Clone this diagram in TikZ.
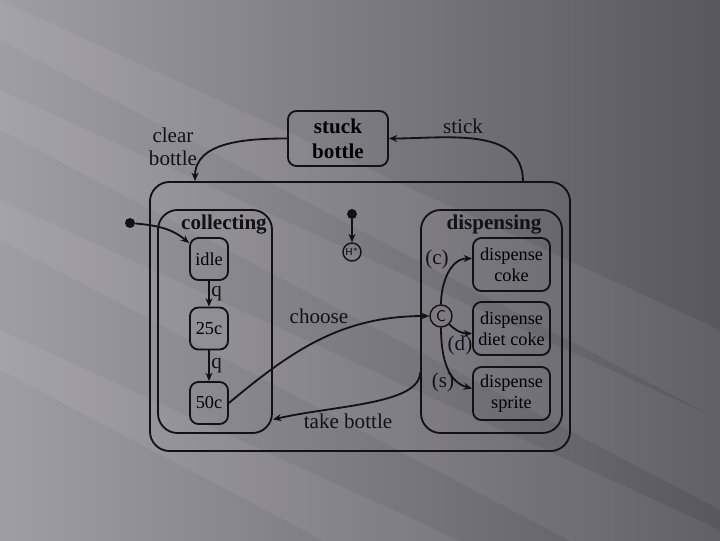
\documentclass[tikz,border=0pt]{standalone}
\usepackage{fontspec}
\setmainfont{Liberation Serif}
\usepackage{xcolor}
\usetikzlibrary{arrows.meta, positioning, calc}
\definecolor{inkcolor}{RGB}{18,18,20}
\definecolor{bgleft}{RGB}{160,158,165}
\definecolor{bgright}{RGB}{88,87,94}

\begin{document}
\begin{tikzpicture}[
    x=0.025cm, y=-0.025cm,
    font=\fontsize{15}{18}\selectfont,
    region/.style={rectangle, draw=inkcolor, line width=1.3pt, rounded corners=14pt, inner sep=0pt},
    statebox/.style={rectangle, draw=inkcolor, line width=1.3pt, rounded corners=6pt,
                  minimum width=0.95cm, minimum height=1.05cm, align=center, inner sep=1pt,
                  font=\fontsize{13}{15}\selectfont},
    dispbox/.style={statebox, minimum width=1.925cm, minimum height=1.325cm},
    junction/.style={circle, draw=inkcolor, line width=1pt, inner sep=0pt},
    dot/.style={circle, fill=inkcolor, inner sep=0pt, minimum size=0.25cm},
    arr/.style={-{Stealth[length=6pt, width=5pt]}, line width=1.3pt, draw=inkcolor},
    lbl/.style={text=inkcolor, inner sep=1pt}
]
% background
\useasboundingbox (0,0) rectangle (720,540);
\shade[left color=bgleft, right color=bgright] (0,0) rectangle (720,540);
\foreach \s in {0,90,200,330}
  \fill[white, opacity=0.06] (0,\s) -- (0,\s+40) -- (720,\s+420) -- (720,\s+330) -- cycle;

% states
\node[statebox, minimum width=2.5cm, minimum height=1.375cm, font=\fontsize{15}{18}\selectfont\bfseries] (stuck) at (338,138.5) {stuck\\bottle};
\node[region, minimum width=10.5cm, minimum height=6.725cm] (outer) at (360,316.5) {};
\node[region, minimum width=2.85cm, minimum height=5.575cm] (coll) at (215,321.5) {};
\node[region, minimum width=3.525cm, minimum height=5.575cm] (disp) at (491.5,321.5) {};
\node[lbl, font=\fontsize{15}{18}\selectfont\bfseries] (colltitle) at (224,225) {collecting};
\node[lbl, font=\fontsize{15}{18}\selectfont\bfseries] (disptitle) at (494,225) {dispensing};

\node[statebox] (idle) at (209,259) {idle};
\node[statebox] (c25) at (209,328.5) {25c};
\node[statebox] (c50) at (209,403) {50c};

\node[dispbox] (coke) at (511.5,264.5) {dispense\\coke};
\node[dispbox] (diet) at (511.5,328.5) {dispense\\diet coke};
\node[dispbox] (sprite) at (511.5,393.5) {dispense\\sprite};

\node[junction, minimum size=0.55cm, font=\sffamily\fontsize{11}{12}\selectfont] (choice) at (441,316) {C};
\node[junction, minimum size=0.45cm, font=\sffamily\fontsize{7}{8}\selectfont] (hist) at (352,252) {H$^*$};
\node[dot] (histinit) at (352,214) {};
\node[dot] (init) at (130,223) {};

% transitions
\draw[arr] (init) to[out=-5, in=140] ($(idle.north west)+(0,6)$);
\draw[arr] (histinit) -- (hist);
\draw[arr] (idle) -- node[lbl, right]{q} (c25);
\draw[arr] (c25) -- node[lbl, right]{q} (c50);
\draw[arr] (c50.east) to[out=40, in=180] (choice.west);
\draw[arr] ($(disp.west)+(0,51)$) .. controls +(0,32) and +(60,-14) .. ($(coll.east)+(0,98)$);
\draw[arr] ($(outer.north east)+(-48,0)$) to[out=90, in=0] (stuck.east);
\draw[arr] (stuck.west) to[out=180, in=90] ($(outer.north west)+(46,0)$);
\node[lbl] (lchoose) at (319,316) {choose};
\node[lbl] (ltake) at (348,421) {take bottle};
\node[lbl] (lstick) at (463,126) {stick};
\node[lbl, align=center, font=\fontsize{15}{16}\selectfont] (lclear) at (173,147) {clear\\bottle};

\draw[arr] (choice.north) to[out=90, in=180] ($(coke.west)+(0,-6)$);
\draw[arr] (choice.south east) to[out=-45, in=180] ($(diet.west)+(0,5)$);
\draw[arr] (choice.south) to[out=-90, in=165] ($(sprite.west)+(0,-5)$);
\node[lbl] (lc) at (437,259) {(c)};
\node[lbl] (ld) at (460,345) {(d)};
\node[lbl] (ls) at (443,382) {(s)};
\end{tikzpicture}
\end{document}
